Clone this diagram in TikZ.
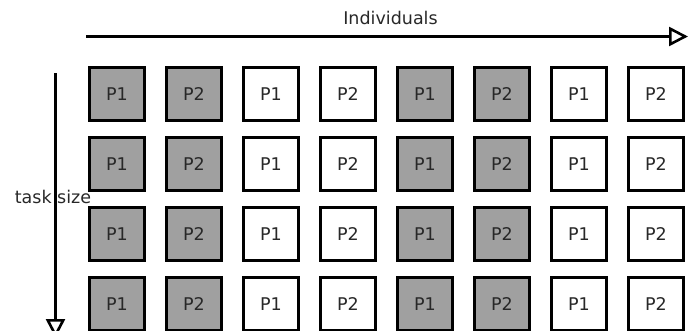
\documentclass[tikz,border=0pt]{standalone}
\usepackage{fontspec}
\setmainfont{DejaVu Sans}
\usetikzlibrary{arrows.meta}
\definecolor{boxgray}{RGB}{160,160,160}
\definecolor{txt}{RGB}{40,40,40}
\begin{document}
\begin{tikzpicture}[x=1pt,y=-1pt,
  cell/.style={draw=black, line width=2.6pt, minimum width=54.5pt, minimum height=53.5pt, inner sep=0pt,
    font=\fontsize{17.5}{20}\selectfont, text=txt},
  shaded/.style={cell, fill=boxgray},
  plain/.style={cell, fill=white},
  axis/.style={line width=2.6pt, -{Triangle[open, length=19pt, width=19pt, line width=2.6pt]}},
  lbl/.style={font=\fontsize{17.5}{20}\selectfont, text=txt, anchor=base, inner sep=0pt}]
\useasboundingbox (0,0) rectangle (690,330);
% axes
\coordinate (hs) at (86,36.5);
\coordinate (he) at (688,36.5);
\draw[axis] (hs) -- (he);
\node[lbl] (indiv) at (390.5,24) {Individuals};
\coordinate (vs) at (55.5,73);
\coordinate (ve) at (55.5,338);
\draw[axis] (vs) -- (ve);
\node[lbl] (task) at (53,203) {task size};
% grid of cells
\foreach \r in {0,1,2,3}{
  \foreach \c/\st/\t in {0/shaded/P1,1/shaded/P2,2/plain/P1,3/plain/P2,4/shaded/P1,5/shaded/P2,6/plain/P1,7/plain/P2}{
    \node[\st] (c\r\c) at ({117+77*\c},{94+70*\r}) {\t};
  }
}
\end{tikzpicture}
\end{document}
